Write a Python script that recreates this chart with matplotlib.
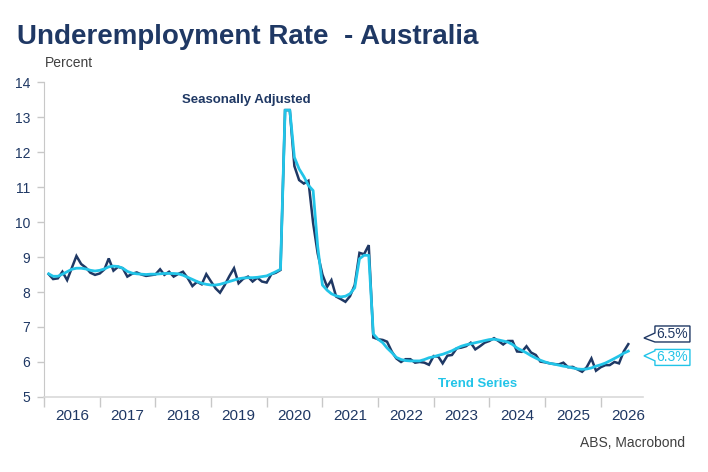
import matplotlib
matplotlib.use("Agg")
import matplotlib.pyplot as plt
import matplotlib.dates as mdates
import matplotlib.patches as mpatches
import matplotlib.transforms as mtransforms
import pandas as pd

# monthly data, Feb 2016 onwards
start_month = "2016-02-01"

seasonally_adjusted = [
    8.51, 8.37, 8.39, 8.58, 8.34, 8.68, 9.03, 8.80, 8.70, 8.55, 8.49, 8.53,
    8.65, 8.96, 8.61, 8.72, 8.68, 8.44, 8.52, 8.56, 8.50, 8.46, 8.48, 8.50,
    8.65, 8.49, 8.58, 8.44, 8.52, 8.58, 8.40, 8.17, 8.29, 8.22, 8.51, 8.30,
    8.10, 7.98, 8.20, 8.45, 8.68, 8.25, 8.38, 8.44, 8.30, 8.41, 8.30, 8.27,
    8.51, 8.55, 8.63, 13.20, 13.20, 11.60, 11.20, 11.10, 11.18, 9.97, 9.10, 8.50,
    8.15, 8.34, 7.87, 7.80, 7.72, 7.88, 8.20, 9.12, 9.08, 9.34, 6.70, 6.65,
    6.63, 6.58, 6.30, 6.10, 6.00, 6.08, 6.08, 5.98, 6.00, 5.98, 5.92, 6.17,
    6.15, 5.96, 6.18, 6.20, 6.39, 6.41, 6.45, 6.55, 6.36, 6.45, 6.55, 6.60,
    6.68, 6.60, 6.50, 6.60, 6.60, 6.30, 6.29, 6.45, 6.27, 6.20, 6.01, 5.99,
    5.96, 5.94, 5.93, 5.98, 5.85, 5.86, 5.79, 5.72, 5.85, 6.10, 5.75, 5.85,
    5.91, 5.91, 6.00, 5.96, 6.30, 6.51,
]

trend = [
    8.52, 8.45, 8.45, 8.51, 8.58, 8.65, 8.68, 8.68, 8.66, 8.62, 8.60, 8.62,
    8.66, 8.72, 8.74, 8.73, 8.68, 8.59, 8.54, 8.52, 8.51, 8.50, 8.51, 8.51,
    8.52, 8.53, 8.53, 8.53, 8.52, 8.48, 8.42, 8.36, 8.30, 8.25, 8.22, 8.20,
    8.20, 8.22, 8.26, 8.30, 8.34, 8.38, 8.40, 8.41, 8.41, 8.42, 8.44, 8.46,
    8.52, 8.58, 8.65, 13.20, 13.20, 11.85, 11.52, 11.30, 11.05, 10.90, 9.30, 8.20,
    8.05, 7.95, 7.89, 7.86, 7.88, 7.95, 8.12, 8.95, 9.05, 9.05, 6.80, 6.65,
    6.55, 6.40, 6.27, 6.13, 6.07, 6.04, 6.03, 6.03, 6.03, 6.07, 6.12, 6.15,
    6.19, 6.22, 6.27, 6.32, 6.39, 6.45, 6.49, 6.52, 6.55, 6.58, 6.61, 6.64,
    6.65, 6.63, 6.60, 6.57, 6.50, 6.40, 6.33, 6.26, 6.18, 6.11, 6.05, 6.00,
    5.96, 5.94, 5.91, 5.88, 5.86, 5.83, 5.80, 5.79, 5.80, 5.83, 5.88, 5.92,
    5.97, 6.03, 6.10, 6.17, 6.25, 6.31,
]

years = list(range(2016, 2027))
sa_label = "6.5%"
trend_label = "6.3%"

navy = "#1f3864"
cyan = "#22c4e8"
grey = "#c8c8c8"
text_dark = "#404040"

plt.rcParams["font.family"] = ["Liberation Sans", "DejaVu Sans"]

dates = pd.date_range(start_month, periods=len(seasonally_adjusted), freq="MS")

fig = plt.figure(figsize=(7.08, 4.72), dpi=100)
ax = fig.add_axes([0.0621, 0.159, 0.846, 0.667])

ax.plot(dates, seasonally_adjusted, color=navy, lw=1.8, solid_joinstyle="miter")
ax.plot(dates, trend, color=cyan, lw=2.0)

ax.set_ylim(5, 14)
ax.set_yticks(range(5, 15))
ax.set_xlim(pd.Timestamp("2016-01-01"), pd.Timestamp("2026-10-05"))

# year boundaries as ticks, labels centred in the year
ax.xaxis.set_major_locator(mdates.YearLocator())
ax.xaxis.set_major_formatter(plt.NullFormatter())
ax.set_xticks([pd.Timestamp(f"{y}-07-02") for y in years], minor=True)
ax.set_xticklabels([str(y) for y in years], minor=True)
ax.tick_params(axis="x", which="major", length=7, color=grey, width=1)
ax.tick_params(axis="x", which="minor", length=0, pad=9, labelsize=11, labelcolor=navy)
ax.tick_params(axis="y", length=5, color=grey, width=1, pad=5, labelsize=10, labelcolor=navy)

for side in ["top", "right"]:
    ax.spines[side].set_visible(False)
ax.spines["left"].set_color(grey)
ax.spines["bottom"].set_color("#d9d9d9")
ax.spines["bottom"].set_linewidth(1.2)

fig.text(0.024, 1 - 44 / 472, "Underemployment Rate  - Australia", fontsize=20,
         fontweight="bold", color=navy, va="baseline")
fig.text(0.0635, 1 - 67 / 472, "Percent", fontsize=10, color=text_dark, va="baseline")
fig.text(0.9675, 1 - 447 / 472, "ABS, Macrobond", fontsize=10, color=text_dark,
         va="baseline", ha="right")

ax.text(pd.Timestamp("2019-08-20"), 13.4, "Seasonally Adjusted", fontsize=9.5,
        fontweight="bold", color=navy, ha="center", va="baseline")
ax.text(pd.Timestamp("2023-10-15"), 5.29, "Trend Series", fontsize=9.5,
        fontweight="bold", color=cyan, ha="center", va="baseline")


def callout(value, text, color, tip_frac):
    # box with a notch pointing left at the right edge of the axes
    x0 = ax.transAxes.transform((1.0, 0))[0]
    yc = ax.transData.transform((mdates.date2num(dates[-1]), value))[1]
    h = 16
    left = x0 + 12
    right = left + 35
    top, bottom = yc + h / 2, yc - h / 2
    tip_y = bottom + tip_frac * h
    lo = max(bottom, tip_y - 5)
    hi = min(top, tip_y + 5)
    pts = [(left, top), (right, top), (right, bottom), (left, bottom),
           (left, lo), (x0 + 1, tip_y), (left, hi), (left, top)]
    poly = mpatches.Polygon(pts, closed=True, facecolor="white", edgecolor=color,
                            lw=1, transform=mtransforms.IdentityTransform(), clip_on=False)
    fig.patches.append(poly)
    fig.text((left + right) / 2 / fig.bbox.width, yc / fig.bbox.height, text,
             fontsize=10, color=color, ha="center", va="center")


callout(6.80, sa_label, navy, 0.25)
callout(6.13, trend_label, cyan, 0.6)

fig.savefig("out.png", dpi=100)
